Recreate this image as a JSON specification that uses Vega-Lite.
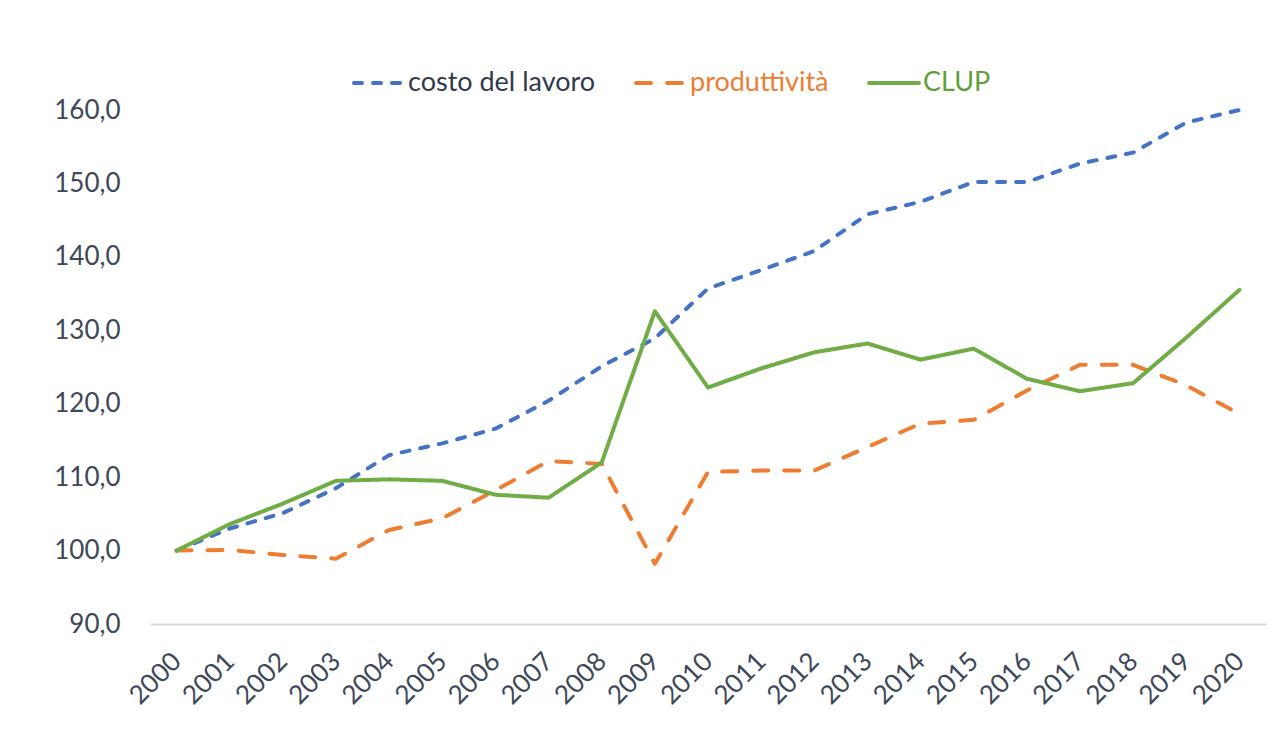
{
  "$schema": "https://vega.github.io/schema/vega-lite/v6.json",
  "width": 1116,
  "height": 514,
  "autosize": "none",
  "padding": {"left": 150, "top": 110, "right": 16, "bottom": 111},
  "background": "white",
  "config": {
    "view": {"stroke": null},
    "font": "Lato",
    "axis": {"labelFont": "Lato", "labelColor": "#3d4858", "labelFontSize": 26}
  },
  "data": {
    "values": [
      {"year": "2000", "series": "costo del lavoro", "value": 100.0},
      {"year": "2001", "series": "costo del lavoro", "value": 103.0},
      {"year": "2002", "series": "costo del lavoro", "value": 105.1},
      {"year": "2003", "series": "costo del lavoro", "value": 108.5},
      {"year": "2004", "series": "costo del lavoro", "value": 113.0},
      {"year": "2005", "series": "costo del lavoro", "value": 114.6},
      {"year": "2006", "series": "costo del lavoro", "value": 116.6},
      {"year": "2007", "series": "costo del lavoro", "value": 120.4},
      {"year": "2008", "series": "costo del lavoro", "value": 125.1},
      {"year": "2009", "series": "costo del lavoro", "value": 128.9},
      {"year": "2010", "series": "costo del lavoro", "value": 135.7},
      {"year": "2011", "series": "costo del lavoro", "value": 138.2},
      {"year": "2012", "series": "costo del lavoro", "value": 140.8},
      {"year": "2013", "series": "costo del lavoro", "value": 145.8},
      {"year": "2014", "series": "costo del lavoro", "value": 147.5},
      {"year": "2015", "series": "costo del lavoro", "value": 150.2},
      {"year": "2016", "series": "costo del lavoro", "value": 150.2},
      {"year": "2017", "series": "costo del lavoro", "value": 152.7},
      {"year": "2018", "series": "costo del lavoro", "value": 154.2},
      {"year": "2019", "series": "costo del lavoro", "value": 158.3},
      {"year": "2020", "series": "costo del lavoro", "value": 160.0},
      {"year": "2000", "series": "produttività", "value": 100.0},
      {"year": "2001", "series": "produttività", "value": 100.1},
      {"year": "2002", "series": "produttività", "value": 99.4},
      {"year": "2003", "series": "produttività", "value": 98.9},
      {"year": "2004", "series": "produttività", "value": 102.8},
      {"year": "2005", "series": "produttività", "value": 104.4},
      {"year": "2006", "series": "produttività", "value": 108.2},
      {"year": "2007", "series": "produttività", "value": 112.2},
      {"year": "2008", "series": "produttività", "value": 111.8},
      {"year": "2009", "series": "produttività", "value": 98.2},
      {"year": "2010", "series": "produttività", "value": 110.7},
      {"year": "2011", "series": "produttività", "value": 110.9},
      {"year": "2012", "series": "produttività", "value": 110.9},
      {"year": "2013", "series": "produttività", "value": 114.1},
      {"year": "2014", "series": "produttività", "value": 117.3},
      {"year": "2015", "series": "produttività", "value": 117.8},
      {"year": "2016", "series": "produttività", "value": 121.8},
      {"year": "2017", "series": "produttività", "value": 125.3},
      {"year": "2018", "series": "produttività", "value": 125.3},
      {"year": "2019", "series": "produttività", "value": 122.5},
      {"year": "2020", "series": "produttività", "value": 118.6},
      {"year": "2000", "series": "CLUP", "value": 100.0},
      {"year": "2001", "series": "CLUP", "value": 103.6},
      {"year": "2002", "series": "CLUP", "value": 106.4},
      {"year": "2003", "series": "CLUP", "value": 109.5},
      {"year": "2004", "series": "CLUP", "value": 109.7},
      {"year": "2005", "series": "CLUP", "value": 109.5},
      {"year": "2006", "series": "CLUP", "value": 107.6},
      {"year": "2007", "series": "CLUP", "value": 107.2},
      {"year": "2008", "series": "CLUP", "value": 112.0},
      {"year": "2009", "series": "CLUP", "value": 132.6},
      {"year": "2010", "series": "CLUP", "value": 122.2},
      {"year": "2011", "series": "CLUP", "value": 124.8},
      {"year": "2012", "series": "CLUP", "value": 127.0},
      {"year": "2013", "series": "CLUP", "value": 128.2},
      {"year": "2014", "series": "CLUP", "value": 126.0},
      {"year": "2015", "series": "CLUP", "value": 127.5},
      {"year": "2016", "series": "CLUP", "value": 123.4},
      {"year": "2017", "series": "CLUP", "value": 121.7},
      {"year": "2018", "series": "CLUP", "value": 122.8},
      {"year": "2019", "series": "CLUP", "value": 129.0},
      {"year": "2020", "series": "CLUP", "value": 135.5}
    ]
  },
  "mark": {"type": "line", "strokeWidth": 4, "strokeCap": "round", "strokeJoin": "round"},
  "encoding": {
    "x": {
      "field": "year", "type": "ordinal",
      "scale": {"type": "point", "padding": 0.5},
      "axis": {
        "title": null, "labelAngle": -45, "labelAlign": "right", "labelBaseline": "middle",
        "ticks": false, "grid": false,
        "domainColor": "#d9d9d9", "domainWidth": 2, "labelPadding": 33
      }
    },
    "y": {
      "field": "value", "type": "quantitative",
      "scale": {"domain": [90, 160], "nice": false, "zero": false},
      "axis": {
        "title": null, "values": [90, 100, 110, 120, 130, 140, 150, 160],
        "domain": false, "ticks": false, "grid": false, "labelPadding": 30,
        "labelExpr": "replace(format(datum.value, '.1f'), '.', ',')"
      }
    },
    "color": {
      "field": "series", "type": "nominal",
      "scale": {
        "domain": ["costo del lavoro", "produttività", "CLUP"],
        "range": ["#4472C4", "#ED7D31", "#70AD47"]
      },
      "legend": {
        "title": null, "orient": "none", "direction": "horizontal",
        "legendX": 202, "legendY": -54, "padding": 0,
        "symbolType": "stroke", "symbolSize": 2500, "symbolStrokeWidth": 4,
        "labelFont": "Lato", "labelFontSize": 27, "labelOffset": 2,
        "columnPadding": 32, "labelLimit": 400,
        "encode": {
          "labels": {"update": {"fill": {"signal": "datum.label == 'produttività' ? '#ED7D31' : datum.label == 'CLUP' ? '#5f9f3a' : '#2f3a4d'"}}},
          "symbols": {"update": {"strokeCap": {"value": "round"}}}
        }
      }
    },
    "strokeDash": {
      "field": "series", "type": "nominal",
      "scale": {
        "domain": ["costo del lavoro", "produttività", "CLUP"],
        "range": [[8, 11], [15, 16], [1, 0]]
      },
      "legend": null
    }
  }
}
